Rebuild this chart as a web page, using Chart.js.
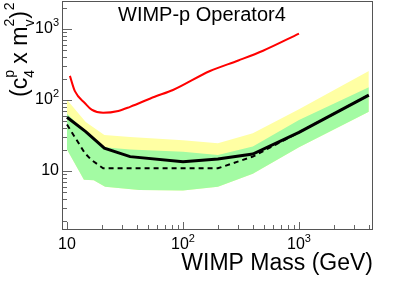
<!DOCTYPE html>
<html>
<head>
<meta charset="utf-8">
<script src="https://cdn.jsdelivr.net/npm/chart.js@4.4.1/dist/chart.umd.min.js"></script>
<style>
  html, body { margin: 0; padding: 0; background: #fff; }
  #wrap { width: 415px; height: 281px; }
</style>
</head>
<body>
<div id="wrap"><canvas id="chart" width="415" height="281"></canvas></div>
<script>
// ── data (mass in GeV, limit value) ──
const redMass   = [10.6, 11.7, 14.3, 16.3, 20.5, 27.7, 35, 57, 82, 171, 300, 490, 1000];
const redValue  = [218, 133, 90, 73, 66, 70, 80, 111, 138, 256, 360, 494, 859];

const solidMass  = [10, 14.5, 21, 35, 100, 200, 400, 1000, 4000];
const solidValue = [57, 35.8, 20.9, 15.9, 13.5, 14.7, 17.3, 35, 117];

const dashMass  = [10, 14.3, 16.3, 20.5, 200, 400, 1000, 4000];
const dashValue = [45, 17.7, 14.2, 10.9, 10.9, 15.9, 35, 117];

const greenTopMass  = [10, 14.5, 21, 35, 100, 200, 400, 1000, 4000];
const greenTopValue = [64, 36, 21.6, 20, 18.7, 16.8, 22, 52, 151];

const greenBotMass  = [10, 14, 17, 21.3, 42, 100, 200, 400, 1000, 4000];
const greenBotValue = [20, 7.5, 7.4, 6.0, 5.4, 5.3, 6.0, 9.1, 21.6, 68];

const yellowTopMass  = [10, 14.5, 21, 35, 100, 200, 400, 1000, 4000];
const yellowTopValue = [101, 49, 32, 30, 27, 24.6, 34, 74, 256];

const xTickValues = [10, 100, 1000];
const xTickExps   = ['', '2', '3'];
const yTickValues = [10, 100, 1000];
const yTickExps   = ['', '2', '3'];

const titleText  = 'WIMP-p Operator4';
const xTitleText = 'WIMP Mass (GeV)';

const FONT = '"Liberation Sans", Arial, Helvetica, sans-serif';

function pts(xs, ys) {
    return xs.map((x, i) => ({ x, y: ys[i] }));
}

// ── label "10" + superscript exponent ──
function powLabel(ctx, base, exp, x, y, align) {
    ctx.font = '16px ' + FONT;
    const wb = ctx.measureText(base).width;
    ctx.font = '11px ' + FONT;
    const we = exp ? ctx.measureText(exp).width : 0;
    const total = wb + we;
    let left = x;
    if (align === 'right') left = x - total;
    if (align === 'center') left = x - total / 2;
    ctx.textAlign = 'left';
    ctx.textBaseline = 'middle';
    ctx.font = '16px ' + FONT;
    ctx.fillText(base, left, y);
    if (exp) {
        ctx.font = '11px ' + FONT;
        ctx.fillText(exp, left + wb, y - 6);
    }
}

// ── frame, ROOT style ticks, labels, titles ──
const decorPlugin = {
    id: 'decor',
    afterDraw(chart) {
        const { ctx, chartArea: a, scales } = chart;
        const xs = scales.x, ys = scales.y;
        ctx.save();

        // ticks (inside the frame)
        ctx.strokeStyle = '#666';
        ctx.lineWidth = 1;
        ctx.beginPath();
        for (let k = 0; k <= 4; k++) {
            for (let m = 1; m <= 9; m++) {
                const v = m * Math.pow(10, k);
                if (v >= xs.min && v <= xs.max) {
                    const px = Math.round(xs.getPixelForValue(v)) + 0.5;
                    const len = m === 1 ? 7 : 4;
                    ctx.moveTo(px, a.bottom);
                    ctx.lineTo(px, a.bottom - len);
                }
                if (v >= ys.min && v <= ys.max) {
                    const py = Math.round(ys.getPixelForValue(v)) + 0.5;
                    const len = m === 1 ? 10 : 5;
                    ctx.moveTo(a.left, py);
                    ctx.lineTo(a.left + len, py);
                }
            }
        }
        ctx.stroke();

        // frame
        ctx.strokeStyle = '#555';
        ctx.strokeRect(a.left + 0.5, a.top + 0.5, a.right - a.left - 1, a.bottom - a.top);

        // tick labels
        ctx.fillStyle = '#000';
        xTickValues.forEach((v, i) => {
            powLabel(ctx, '10', xTickExps[i], xs.getPixelForValue(v), 245, 'center');
        });
        yTickValues.forEach((v, i) => {
            powLabel(ctx, '10', yTickExps[i], 59, ys.getPixelForValue(v), 'right');
        });

        // titles
        ctx.textBaseline = 'alphabetic';
        ctx.textAlign = 'left';
        ctx.font = '20px ' + FONT;
        ctx.fillText(titleText, 118, 21);

        ctx.textAlign = 'right';
        ctx.font = '23px ' + FONT;
        ctx.fillText(xTitleText, 373, 270);

        // y title: (c_4^p x m_v^2)^2, rotated
        ctx.translate(27, 97);
        ctx.rotate(-Math.PI / 2);
        ctx.textAlign = 'left';
        const big = '23px ' + FONT, small = '14px ' + FONT;
        let x = 0;
        ctx.font = big;
        ctx.fillText('(c', x, 0);
        x += ctx.measureText('(c').width;
        ctx.font = small;
        ctx.fillText('4', x, 7);
        ctx.fillText('p', x, -13);
        x += Math.max(ctx.measureText('4').width, ctx.measureText('p').width);
        ctx.font = big;
        ctx.fillText(' x m', x, 0);
        x += ctx.measureText(' x m').width;
        ctx.font = small;
        ctx.fillText('v', x, 7);
        ctx.fillText('2', x, -13);
        x += Math.max(ctx.measureText('v').width, ctx.measureText('2').width);
        ctx.font = big;
        ctx.fillText(')', x, 0);
        x += ctx.measureText(')').width + 1;
        ctx.font = small;
        ctx.fillText('2', x, -13);

        ctx.restore();
    }
};

new Chart(document.getElementById('chart').getContext('2d'), {
    type: 'line',
    data: {
        datasets: [
            {   // 0 red
                data: pts(redMass, redValue),
                borderColor: '#ff0000', borderWidth: 2, fill: false,
                cubicInterpolationMode: 'monotone'
            },
            {   // 1 solid black
                data: pts(solidMass, solidValue),
                borderColor: '#000', borderWidth: 3, fill: false
            },
            {   // 2 dashed black
                data: pts(dashMass, dashValue),
                borderColor: '#000', borderWidth: 2, borderDash: [5, 4], fill: false
            },
            {   // 3 green band top -> green bottom
                data: pts(greenTopMass, greenTopValue),
                borderWidth: 0, borderColor: 'rgba(0,0,0,0)',
                backgroundColor: '#a3fba3', fill: 4
            },
            {   // 4 green band bottom
                data: pts(greenBotMass, greenBotValue),
                borderWidth: 0, borderColor: 'rgba(0,0,0,0)', fill: false
            },
            {   // 5 yellow band top -> green bottom
                data: pts(yellowTopMass, yellowTopValue),
                borderWidth: 0, borderColor: 'rgba(0,0,0,0)',
                backgroundColor: '#ffffa3', fill: 4
            }
        ]
    },
    options: {
        responsive: false,
        animation: false,
        devicePixelRatio: 1,
        layout: { padding: { left: 0, right: 42, top: 1, bottom: 0 } },
        elements: { point: { radius: 0 }, line: { tension: 0 } },
        plugins: { legend: { display: false }, tooltip: { enabled: false } },
        scales: {
            x: {
                type: 'logarithmic', min: 9.06, max: 4345,
                grid: { display: false }, border: { display: false },
                ticks: { display: false },
                afterFit: s => { s.height = 52; }
            },
            y: {
                type: 'logarithmic', min: 1.52, max: 2478,
                grid: { display: false }, border: { display: false },
                ticks: { display: false },
                afterFit: s => { s.height; s.width = 62; }
            }
        }
    },
    plugins: [decorPlugin]
});
</script>
</body>
</html>
